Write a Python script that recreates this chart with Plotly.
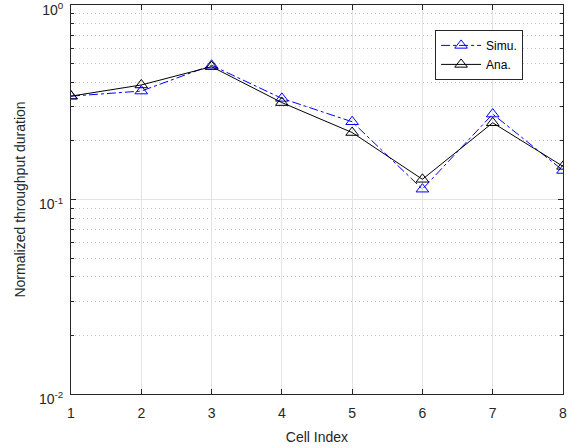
import plotly.graph_objects as go

cells = [1, 2, 3, 4, 5, 6, 7, 8]
simu = [0.340, 0.361, 0.490, 0.331, 0.251, 0.113, 0.275, 0.141]
ana = [0.340, 0.388, 0.482, 0.315, 0.221, 0.127, 0.248, 0.148]
ytick_vals = [0.01, 0.1, 1]
ytick_text = ["10<sup>-2</sup>", "10<sup>-1</sup>", "10<sup>0</sup>"]
minor_vals = [m * d for d in (0.01, 0.1) for m in range(2, 10)]

fig = go.Figure()
fig.add_trace(go.Scatter(
    x=cells, y=simu, name="Simu.", mode="lines+markers",
    line=dict(color="#0000FF", width=1, dash="dashdot"),
    marker=dict(symbol="triangle-up-open", size=11, color="#0000FF", line=dict(width=1)),
))
fig.add_trace(go.Scatter(
    x=cells, y=ana, name="Ana.", mode="lines+markers",
    line=dict(color="#000000", width=1),
    marker=dict(symbol="triangle-up-open", size=11, color="#000000", line=dict(width=1)),
))

fig.update_layout(
    width=577, height=448,
    margin=dict(l=71, r=14, t=5, b=54, autoexpand=False),
    paper_bgcolor="white", plot_bgcolor="white",
    font=dict(family="Liberation Sans, Arial, sans-serif", size=14, color="#262626"),
    legend=dict(
        x=0.74, y=0.936, xanchor="left", yanchor="top",
        bgcolor="white", bordercolor="#262626", borderwidth=1,
        font=dict(size=12, color="#000000"),
        tracegroupgap=0, itemwidth=40,
    ),
    showlegend=True,
)
fig.update_xaxes(
    range=[1, 8], tickvals=cells, ticktext=[str(c) for c in cells],
    title=dict(text="Cell Index", standoff=12, font=dict(size=14)),
    showline=True, linecolor="#262626", linewidth=1, mirror="allticks",
    ticks="inside", ticklen=5, tickcolor="#262626", ticklabelstandoff=6,
    ticklabeloverflow="allow",
    showgrid=True, gridcolor="#E3E3E3", gridwidth=1,
    zeroline=False, automargin=False,
)
fig.update_yaxes(
    type="log", range=[-2, 0], tickvals=ytick_vals, ticktext=ytick_text,
    title=dict(text="Normalized throughput duration", standoff=10, font=dict(size=14)),
    showline=True, linecolor="#262626", linewidth=1, mirror="allticks",
    ticks="inside", ticklen=5, tickcolor="#262626", ticklabelstandoff=4,
    ticklabelshift=5,
    ticklabeloverflow="allow",
    showgrid=True, gridcolor="#E3E3E3", gridwidth=1,
    zeroline=False, automargin=False,
    minor=dict(tickvals=minor_vals, ticks="inside", ticklen=3, tickcolor="#262626",
               showgrid=True, gridcolor="#C4C4C4", griddash="1px,3px", gridwidth=1),
)

fig.write_html(
    "out.html",
    config={"displayModeBar": False},
    post_script="document.body.style.margin='0';document.body.style.overflow='hidden';",
)
